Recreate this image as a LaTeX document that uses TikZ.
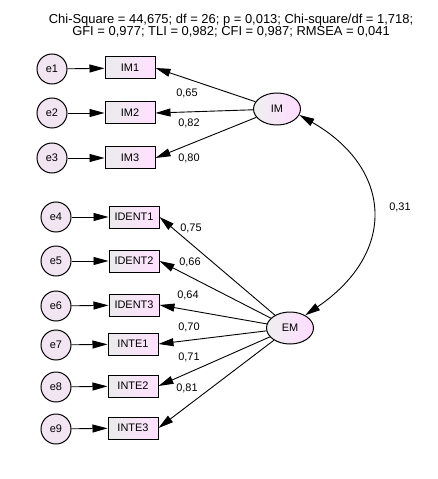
\documentclass[tikz,border=0pt]{standalone}
\usepackage{fontspec}
\setmainfont{Liberation Sans}
\usetikzlibrary{arrows.meta,shapes.geometric}
\begin{document}
\begin{tikzpicture}[x=1bp,y=-1bp,
  font=\fontsize{11}{13}\selectfont,
  line width=0.9bp,
  tip/.tip={Triangle[length=15bp,width=8bp]},
  arr/.style={-tip},
  errc/.style={circle,draw,line width=1bp,minimum size=30bp,inner sep=0pt,fill=violet!10},
  obs/.style={rectangle,draw,line width=1bp,minimum width=50bp,minimum height=22bp,inner sep=0pt,left color=blue!5!gray!15,right color=magenta!12},
  lat/.style={ellipse,draw,line width=1bp,minimum width=47bp,minimum height=32bp,inner sep=0pt,left color=blue!5!gray!12,right color=magenta!14},
  lbl/.style={inner sep=0pt},
  ttl/.style={inner sep=0pt,font=\fontsize{13}{15}\selectfont}]
\useasboundingbox (0,0) rectangle (438,479);
\node[ttl] (t1) at (231,20) {Chi-Square = 44,675; df = 26; p = 0,013; Chi-square/df = 1,718;};
\node[ttl] (t2) at (231,32) {GFI = 0,977; TLI = 0,982; CFI = 0,987; RMSEA = 0,041};
% errors
\node[errc] (e1) at (52,69) {e1};
\node[errc] (e2) at (52,113) {e2};
\node[errc] (e3) at (52,158) {e3};
\node[errc] (e4) at (56,217) {e4};
\node[errc] (e5) at (56,261) {e5};
\node[errc] (e6) at (56,306) {e6};
\node[errc] (e7) at (56,345) {e7};
\node[errc] (e8) at (56,387) {e8};
\node[errc] (e9) at (56,429) {e9};
% observed
\node[obs] (IM1) at (130,68) {IM1};
\node[obs] (IM2) at (130,113) {IM2};
\node[obs] (IM3) at (130,158) {IM3};
\node[obs] (ID1) at (134,217) {IDENT1};
\node[obs] (ID2) at (134,261) {IDENT2};
\node[obs] (ID3) at (134,305) {IDENT3};
\node[obs] (IN1) at (133,344) {INTE1};
\node[obs] (IN2) at (133,386) {INTE2};
\node[obs] (IN3) at (133,428) {INTE3};
% latent
\node[lat] (IM) at (277,109) {IM};
\node[lat] (EM) at (290,328) {EM};
% error arrows
\foreach \e/\o in {e1/IM1,e2/IM2,e3/IM3,e4/ID1,e5/ID2,e6/ID3,e7/IN1,e8/IN2,e9/IN3}
  \draw[arr] (\e) -- (\o);
% loadings
\foreach \o in {IM1,IM2,IM3} \draw[arr] (IM) -- (\o.east);
\foreach \o in {ID1,ID2,ID3,IN1,IN2,IN3} \draw[arr] (EM) -- (\o.east);
% covariance
\draw[tip-tip] (IM.-15) .. controls (392,168) and (398,252) .. (EM.40);
% labels
\node[lbl] (l1) at (187,93) {0,65};
\node[lbl] (l2) at (189,123) {0,82};
\node[lbl] (l3) at (189,158) {0,80};
\node[lbl] (l4) at (191,228) {0,75};
\node[lbl] (l5) at (190,262) {0,66};
\node[lbl] (l6) at (188,295) {0,64};
\node[lbl] (l7) at (189,327) {0,70};
\node[lbl] (l8) at (189,357) {0,71};
\node[lbl] (l9) at (187,388) {0,81};
\node[lbl] (l10) at (400,207) {0,31};
\end{tikzpicture}
\end{document}
